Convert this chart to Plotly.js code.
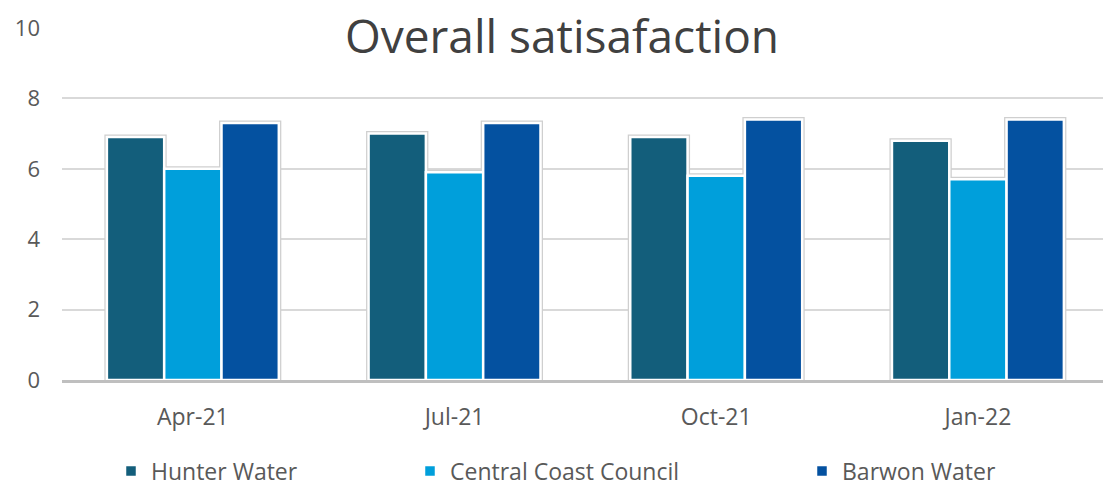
<!DOCTYPE html>
<html>
<head>
<meta charset="utf-8">
<script src="https://cdn.plot.ly/plotly-3.0.1.min.js"></script>
<style>html,body{margin:0;padding:0;background:#fff;}#chart{width:1103px;height:486px;}</style>
</head>
<body>
<div id="chart"></div>
<script>
var categories = ['Apr-21', 'Jul-21', 'Oct-21', 'Jan-22'];
var seriesNames = ['Hunter Water', 'Central Coast Council', 'Barwon Water'];
var hunterWater = [6.9, 7.0, 6.9, 6.8];
var centralCoast = [6.0, 5.9, 5.8, 5.7];
var barwonWater = [7.3, 7.3, 7.4, 7.4];
var yTicks = [0, 2, 4, 6, 8, 10];

var colors = ['#135E7B', '#009FDB', '#0451A0'];
var values = [hunterWater, centralCoast, barwonWater];
var legends = ['legend', 'legend2', 'legend3'];

var traces = [];
values.forEach(function (v, i) {
  traces.push({
    type: 'bar', x: categories, y: v, offsetgroup: 'g' + i,
    marker: {color: colors[i], line: {color: '#cfcfcf', width: 5}},
    showlegend: false, hoverinfo: 'skip'
  });
});
values.forEach(function (v, i) {
  traces.push({
    type: 'bar', x: categories, y: v, offsetgroup: 'g' + i, name: seriesNames[i],
    marker: {color: colors[i], line: {color: '#ffffff', width: 2.5}},
    legend: legends[i]
  });
});

var FONT = '"Open Sans", Lato, sans-serif';
var legendFont = {family: FONT, size: 23, color: '#595959'};
function mkLegend(px) {
  return {x: (px - 62) / 1041, xanchor: 'left', y: 1 - 471 / 486, yref: 'container', yanchor: 'middle',
          orientation: 'h', font: legendFont, bgcolor: 'rgba(0,0,0,0)', itemwidth: 30};
}

var layout = {
  width: 1103, height: 486,
  margin: {l: 62, r: 0, t: 28, b: 106, autoexpand: false},
  paper_bgcolor: '#ffffff', plot_bgcolor: '#ffffff',
  title: {text: 'Overall satisafaction', font: {family: FONT, size: 46, color: '#404040'},
          x: 562 / 1103, xanchor: 'center', xref: 'container', y: 1 - 37 / 486, yanchor: 'middle', yref: 'container'},
  barmode: 'group', bargap: 0.343, bargroupgap: 0,
  xaxis: {type: 'category', range: [-0.5, 3.478], showgrid: false, showline: true,
          linecolor: '#bfbfbf', linewidth: 2.5, ticks: '', ticklabelstandoff: 15,
          tickfont: {family: FONT, size: 23, color: '#595959'}, fixedrange: true},
  yaxis: {range: [0, 10], tickvals: yTicks, ticktext: yTicks.map(String), showgrid: true,
          gridcolor: '#d9d9d9', gridwidth: 2, zeroline: false, showline: false, ticks: '',
          ticklabelstandoff: 21,
          tickfont: {family: FONT, size: 22, color: '#595959'}, fixedrange: true},
  legend: mkLegend(111),
  legend2: mkLegend(410),
  legend3: mkLegend(802),
  showlegend: true
};

Plotly.newPlot('chart', traces, layout, {displayModeBar: false, staticPlot: true});
</script>
</body>
</html>
